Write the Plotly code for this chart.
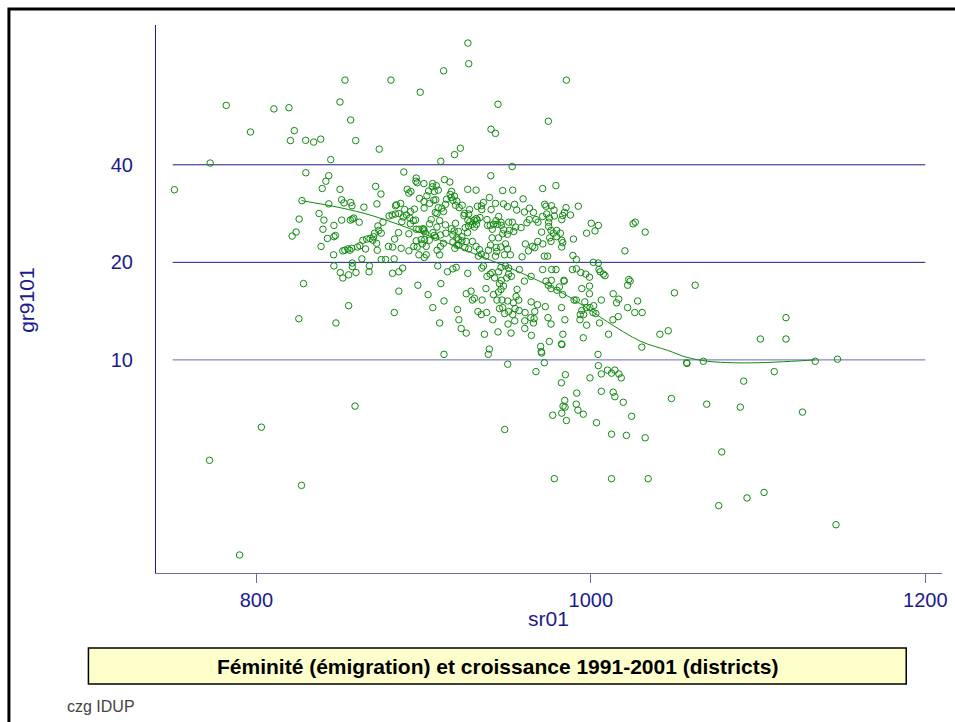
import plotly.graph_objects as go
import math

# ---- data (sr01, gr9101) ----
pts_top = [(926.5, 95), (927, 82), (912, 78), (880.5, 73), (853, 73), (898, 67), (782, 61),
           (810.5, 59.5), (819.5, 60), (850, 62.5), (944.5, 61.5), (974.6, 54.5), (796.5, 50.5),
           (822.7, 51), (856.4, 55), (940.3, 51.5), (943, 50), (820.4, 47.5), (829.5, 47.6),
           (834.3, 47), (838.5, 48), (859.4, 47.5), (873.5, 44.7), (918.5, 43), (922, 45),
           (844.5, 41.5), (772.4, 40.5), (910.3, 41), (953, 39.5), (985.4, 73)]
pts_left = [(751, 33.5), (772, 4.9), (790, 2.5), (803, 6.2), (827, 4.1), (859, 7.2)]
pts_a = [(829.6, 37.8), (843.3, 37), (841.6, 35.6), (839.4, 33.8), (850, 33.6), (871.3, 34.3),
         (874.5, 32.5), (888.2, 38), (827.3, 31), (843.3, 30.3), (851, 31.2), (852.4, 30.5),
         (856.4, 30.6), (857.2, 29.9), (864.3, 29.6), (872.1, 30.3), (883.8, 30.1), (883.2, 29.9),
         (886.3, 30.4), (890.2, 33.6), (891.2, 32.7), (892.4, 33.1), (888.7, 29.1), (892.2, 28.7),
         (894.5, 29.2), (895.6, 36.4), (895.4, 35.6), (896.2, 35.2), (825.6, 27.2), (837.5, 28.3),
         (840.4, 27), (851, 27), (856.2, 27), (857.4, 27.2), (858.3, 27.4), (861.5, 26.6),
         (846.4, 26), (839.8, 25.3), (823.8, 24.8), (821.4, 24.1), (847.3, 24.2), (846.4, 24),
         (842.5, 23.7), (838.7, 22.4), (846.2, 21.1), (851.7, 21.7), (852.9, 21.8), (854.7, 22.0),
         (855.9, 21.8), (857, 22.1), (860.5, 22.3), (861.9, 22.5), (865.3, 22), (863.7, 23.4),
         (866, 23.6), (868, 23.7), (870.1, 24), (869.7, 23.4), (863.1, 20.5), (857.4, 19.9),
         (874.7, 20.4), (877.3, 20.4), (882.4, 20.5), (873.2, 25.1), (870.7, 24.6), (874.7, 24.6),
         (872.7, 25.9), (875.7, 26.6), (879.4, 27.8), (881.2, 28), (883.2, 28.2), (885.2, 28.3),
         (887.8, 27.6), (889.8, 28), (887, 26.7), (891.8, 27.4), (893.9, 26.9), (895.2, 27),
         (892.1, 26.3), (897.2, 25.3), (895.6, 25.3), (885, 24.7), (891.2, 24.5), (882.7, 23.6),
         (881.5, 22.3), (879, 22.4), (886.6, 22.1), (891.2, 21.7), (894.2, 22.4), (895.6, 23.3),
         (896.2, 22.3), (897.2, 21.1), (872.3, 21.8), (871.9, 22.9)]
pts_b = [(846.4, 19.5), (850.2, 18.6), (851.7, 17.9), (855.2, 18.3), (857.4, 19.4), (859.6, 18.6),
         (867.4, 18.7), (867.6, 19.5), (881.4, 18.5), (885.2, 18.7), (887.5, 19.2), (885.2, 16.3),
         (896.6, 17), (828.2, 17.2), (855.2, 14.7), (825.4, 13.4), (847.6, 13), (882.5, 14)]
pts_c = [(940.2, 37), (912.5, 36), (915.7, 35.4), (900.2, 35), (905.4, 35), (905.2, 34.2),
         (907.6, 34.5), (908.8, 33.4), (926.4, 33.6), (931.4, 33.4), (947.3, 33.3), (953.3, 33.4),
         (971.2, 33.8), (979.1, 34.5), (903, 33.2), (906.4, 33.1), (902, 32.1), (916.7, 33.1),
         (915.9, 32.4), (916.5, 31.7), (918.5, 32), (917.5, 31.1), (919.9, 30.9), (919.1, 30),
         (923.1, 30), (921.3, 29.5), (939.4, 31.7), (943, 30.4), (935.8, 30.6), (934.6, 29.9),
         (934.8, 29.1), (940.4, 29.1), (932.2, 29.8), (927.5, 29.1), (924.5, 28.3), (927, 28.2),
         (947.8, 30.3), (950.2, 29.7), (954.4, 30.2), (955.7, 29), (959.5, 31.4), (963.3, 29.4),
         (960.3, 28.6), (965.7, 28.5), (972.4, 30.2), (973.2, 29.8), (976.5, 29.9), (978, 29),
         (978.2, 27.8), (973.6, 28.2), (971.2, 27.7), (974.8, 26.6), (897.6, 31.5), (900.2, 30.8),
         (903.6, 30.4), (900.3, 29.4), (906.1, 31.1), (907.3, 31.2), (908.8, 29.5), (908, 28.3),
         (907, 28.5), (904.6, 27.1), (903.6, 26.3), (900.2, 25.3), (910.9, 29.4), (911.9, 28.7),
         (913.7, 31.3), (913.1, 30.2), (909.6, 26.9), (913.1, 26.1), (913.3, 24.6), (910.1, 24.3),
         (907.2, 23.9), (908, 25.7), (905.6, 24.7), (899.6, 25.4), (900.3, 25), (901.1, 24.6),
         (898.6, 23.5), (900.6, 23.5), (899.2, 22.8), (901.6, 22.4), (903.4, 23.4), (906.4, 24.2),
         (916.7, 25.4), (918.3, 25), (917.5, 24.3), (919.9, 23.8), (920.9, 23.5), (920.9, 24.9),
         (922.9, 24), (919.1, 26.4), (924.1, 27.9), (926.5, 27), (927.7, 26.7), (926.9, 25.9),
         (929.1, 26.2), (930.3, 27), (931.5, 27.3), (932.1, 27), (930.4, 25.7), (931.6, 26.2),
         (924.9, 25.6), (926.3, 24.7), (922.9, 23.3), (924.7, 22.2), (919.9, 22.6)]
pts_d = [(933.7, 27.5), (937.9, 27.1), (938.3, 26), (939.9, 26), (941.1, 25.3), (941.9, 26.2),
         (944.3, 26.2), (947.9, 25.2), (946.5, 26), (947.3, 24.5), (950.1, 24.4), (951.3, 25.1),
         (953.9, 24.9), (955.1, 25.7), (953.1, 26.6), (950.9, 26.6), (946.3, 26.6), (943.3, 26.9),
         (944.9, 27.7), (958.3, 25.6), (961.8, 26.5), (963.2, 27.1), (967.2, 27.1), (968.4, 26.6),
         (970.6, 24.8), (974.8, 25.8), (976.2, 25.1), (977.6, 24.6), (979.6, 25.1), (975.2, 27.4),
         (901.6, 21.1), (900.4, 20.7), (908.1, 21.8), (910.1, 22.4), (909.6, 21.1), (911.9, 22.9),
         (917.5, 23.1), (918.7, 22.1), (921, 22.6), (925.5, 23.2), (927, 22), (929.2, 23.2),
         (931.4, 22.4), (933.4, 21.9), (932.8, 20.9), (934.6, 21.2), (937.2, 20.9), (938.8, 21.8),
         (940, 22.6), (941, 23.8), (944.8, 23.8), (943.4, 22.2), (946.2, 22.3), (949, 22.8),
         (950.2, 22), (948.4, 21.1), (943, 20.9), (943.8, 21.6), (951.9, 21.1), (958.9, 20.8),
         (960.9, 22.8), (965.1, 22.4), (962.7, 21.7), (966.5, 22.2), (968.3, 23.2), (971.3, 22.8),
         (972.2, 20.9), (974.2, 20.9), (975.4, 23.8), (976.2, 23.2), (979.6, 24)]
pts_e = [(992.5, 29.8), (985.2, 29.5), (984.2, 28.5), (987.8, 28), (983.2, 27.9), (982.6, 27.1),
         (1000.3, 26.4), (1004.5, 26), (1002.5, 25), (997.5, 24.6), (1025.3, 26.3), (1026.6, 26.6),
         (1032.5, 24.8), (989.6, 23.6), (981.8, 24.6), (982.6, 23.4), (983.2, 23), (982.6, 22.3),
         (1020.4, 21.7), (989.3, 21), (991.4, 20.4), (1001.5, 20), (1004.5, 19.9)]
pts_f = [(908.5, 19.5), (917.5, 19.1), (919.5, 19.3), (914.3, 18.7), (926.4, 18.5), (934.8, 19.2),
         (935.8, 19.5), (939.8, 18.4), (941, 18.6), (937.9, 18.1), (942.5, 17.9), (944.9, 18.7),
         (946.3, 19.3), (948.9, 19.5), (950.9, 19.2), (950.9, 18.4), (952.5, 18.1), (949.7, 17.9),
         (946.5, 17.6), (945.4, 17.2), (947.8, 16.9), (957.3, 19), (960.3, 17.5), (964.3, 18.1),
         (971.2, 19), (976.6, 19), (979.2, 19), (976.4, 17.6), (973.2, 17.5), (974.6, 17),
         (976.2, 16.6), (979.8, 16.4), (910.3, 17.2), (902.7, 15.9), (912.2, 15.2), (905.5, 14.5),
         (909.6, 13), (921.1, 13.3), (922.5, 12.5), (925.5, 12.1), (920.3, 14.3), (925.5, 16),
         (928.4, 16.3), (929.2, 15.3), (930.4, 15.5), (935, 15.3), (937.3, 16.6), (932.5, 14.1),
         (934.5, 13.8), (937.7, 14), (941.8, 15.9), (944.8, 16.2), (946.3, 16.5), (943.9, 15.3),
         (946.9, 15.3), (950.3, 15.2), (955.9, 16.5), (955.3, 15.7), (956.9, 15.3), (953.7, 15),
         (954.7, 14.4), (947.3, 14.5), (945.4, 14.4), (948.5, 13.9), (950.9, 14.1), (953.3, 13.8),
         (957.1, 14.2), (960.7, 14), (964.3, 15.1), (968.1, 14.8), (972.8, 14.6), (966.5, 14.1),
         (964.1, 13.5), (966.1, 13.4), (965.7, 13), (960.5, 13.2), (960.5, 12.5), (964.5, 11.9),
         (954.5, 13.2), (950.5, 12.9), (952.3, 12.1), (944.5, 12.2), (941.4, 13.3), (936.4, 12),
         (974.4, 13.5), (976.2, 12.9), (975.2, 11.4), (970, 11), (970.4, 10.6), (970.6, 10.5),
         (939.3, 10.8), (938.7, 10.4), (912.2, 10.4), (950.3, 9.7), (972.2, 9.8), (967.2, 9.2)]
pts_g = [(1050, 16.1), (1062.4, 17), (1046.3, 12.3), (1041.3, 12), (1030.5, 10.95), (1057.3, 9.8),
         (1057.5, 9.75), (1028, 15.2), (1030.7, 14), (1026.3, 14), (1022, 14.5), (1016.7, 15.4),
         (1013.4, 16), (1015.4, 15), (1016.4, 13.6), (1013.2, 13.3), (1010.6, 12), (1022.7, 17.7),
         (1023.5, 17.5), (1022, 17), (1006.3, 15.3), (1005.2, 13), (1004.3, 10.4), (1004.5, 9.6),
         (1006.3, 9.05), (1010, 9.3), (1014.4, 9.3), (1012.4, 9.1), (1016.8, 9.05), (1018.2, 8.8),
         (999.5, 8.8), (984.8, 9), (982.5, 14.5), (984.5, 13.3), (983.3, 12), (982.5, 11.2),
         (982.7, 11.15), (995.5, 11.7), (993.5, 13.3), (997.5, 12.8), (993.7, 13.8), (995.7, 13.8),
         (994.6, 14.2), (997.3, 14.5), (999.5, 14.5), (1001.7, 14.7), (1001.3, 14), (1003, 13.9),
         (996.4, 15.1), (990, 15.3), (991.3, 15.3), (999.2, 16), (994.6, 16.6), (999.2, 16.9),
         (999.2, 18), (997, 18.4), (994, 18.6), (989, 19), (991.4, 19.1), (1005.6, 18.7),
         (1007.5, 18.4), (1008.5, 18.2), (1004.9, 19), (983.9, 17.6), (984.1, 17.5), (981.2, 16.8),
         (983.2, 15.9)]
pts_h = [(1116.7, 13.5), (1101.4, 11.6), (1116.7, 11.6), (1067.3, 9.9), (1134.2, 9.9),
         (1147.5, 10.05), (1109.7, 9.2), (1091.4, 8.6), (1069.3, 7.3), (1089.4, 7.15), (1126.6, 6.9),
         (1078.3, 5.2), (1103.6, 3.9), (1093.4, 3.75), (1076.5, 3.55), (1146.6, 3.1)]
pts_i = [(982.4, 8.5), (991.6, 7.9), (1006.3, 8), (1013.4, 7.95), (1014.4, 7.7), (1019.4, 7.4),
         (1024.4, 6.7), (1048.2, 7.6), (984.4, 7.5), (983.4, 7.2), (984.6, 7.15), (982.6, 6.85),
         (977.2, 6.75), (991.3, 7.3), (992.3, 7), (995.5, 6.8), (985.4, 6.5), (1003.4, 6.4),
         (1012.4, 5.9), (1021.3, 5.85), (1032.5, 5.75), (948.5, 6.1), (978.2, 4.3), (1012.4, 4.3),
         (1034.3, 4.3)]

groups = [pts_top, pts_left, pts_a, pts_b, pts_c, pts_d, pts_e, pts_f, pts_g, pts_h, pts_i]
sr01 = [p[0] for g in groups for p in g]
gr9101 = [p[1] for g in groups for p in g]

# lowess curve
lowess_x = [827, 850, 870, 900, 930, 960, 981, 1000, 1010, 1030, 1046, 1057, 1070, 1085, 1100, 1120, 1134]
lowess_y = [31.0, 29.5, 27.8, 24.5, 21.3, 18.4, 16.3, 14.2, 13.1, 11.4, 10.7, 10.2, 9.9, 9.8, 9.8, 9.9, 10.0]

y_ticks = [10, 20, 40]
x_ticks = [800, 1000, 1200]

NAVY = "#1b1b8f"
GREEN = "#108a10"
FONT = "Liberation Sans, Arial, sans-serif"

# plot area in page pixels
L, T, B = 156, 25, 573
R = 947
PW, PH = R - L, B - T


def px(xp):
    return (xp - L) / PW


def py(yp):
    return 1 - (yp - T) / PH


fig = go.Figure()
fig.add_trace(go.Scatter(x=sr01, y=gr9101, mode="markers",
                         marker=dict(symbol="circle-open", size=6.5, color=GREEN,
                                     line=dict(width=1, color=GREEN)),
                         showlegend=False, hoverinfo="x+y"))
fig.add_trace(go.Scatter(x=lowess_x, y=lowess_y, mode="lines",
                         line=dict(color=GREEN, width=1, shape="spline"),
                         showlegend=False))

shapes = []
for v in y_ticks:
    shapes.append(dict(type="line", xref="x", yref="y", x0=750, x1=1200, y0=v, y1=v,
                       line=dict(color=NAVY if v != 10 else "#6a6ab4", width=1), layer="below"))
# outer frame (extends past right/bottom edges)
shapes.append(dict(type="rect", xref="paper", yref="paper",
                   x0=px(8), x1=1.5, y0=-0.5, y1=py(9),
                   line=dict(color="black", width=3), fillcolor="rgba(0,0,0,0)"))
# title box
shapes.append(dict(type="rect", xref="paper", yref="paper",
                   x0=px(88), x1=px(911), y0=py(684), y1=py(648),
                   line=dict(color="black", width=1.5), fillcolor="#ffffcc"))

annotations = [
    dict(text="<b>Féminité (émigration) et croissance 1991-2001 (districts)</b>",
         xref="paper", yref="paper", x=px(500), y=py(666),
         showarrow=False, font=dict(family=FONT, size=21, color="black"),
         xanchor="center", yanchor="middle"),
    dict(text="czg IDUP", xref="paper", yref="paper", x=px(64),
         y=py(706), showarrow=False, xanchor="left", yanchor="middle",
         font=dict(family=FONT, size=16, color="#444444")),
    dict(text="sr01", xref="paper", yref="paper", x=px(551), y=py(618),
         showarrow=False, xanchor="center", yanchor="middle",
         font=dict(family=FONT, size=21, color=NAVY)),
    dict(text="gr9101", xref="paper", yref="paper", x=px(25), y=py(300),
         showarrow=False, xanchor="center", yanchor="middle", textangle=-90,
         font=dict(family=FONT, size=21, color=NAVY)),
]

fig.update_layout(
    width=955, height=722,
    margin=dict(l=L, r=955 - R, t=T, b=722 - B),
    paper_bgcolor="white", plot_bgcolor="white",
    shapes=shapes, annotations=annotations,
    font=dict(family=FONT, size=20, color=NAVY),
    xaxis=dict(range=[740, 1210], tickvals=x_ticks, ticktext=[str(t) for t in x_ticks],
               showgrid=False, zeroline=False, showline=True, linecolor="#6a6ab4", linewidth=1,
               ticks="outside", ticklen=9, tickcolor="#6a6ab4",
               tickfont=dict(family=FONT, size=20, color=NAVY)),
    yaxis=dict(type="log", range=[math.log10(2.2), math.log10(108)], tickvals=y_ticks,
               ticktext=[str(t) for t in y_ticks], showgrid=False, zeroline=False,
               showline=True, linecolor=NAVY, linewidth=1, ticks="",
               ticklabelstandoff=18,
               tickfont=dict(family=FONT, size=20, color=NAVY)),
)

fig.write_html("out.html", config={"displayModeBar": False},
               post_script="document.body.style.margin='0';document.body.style.overflow='hidden';")
